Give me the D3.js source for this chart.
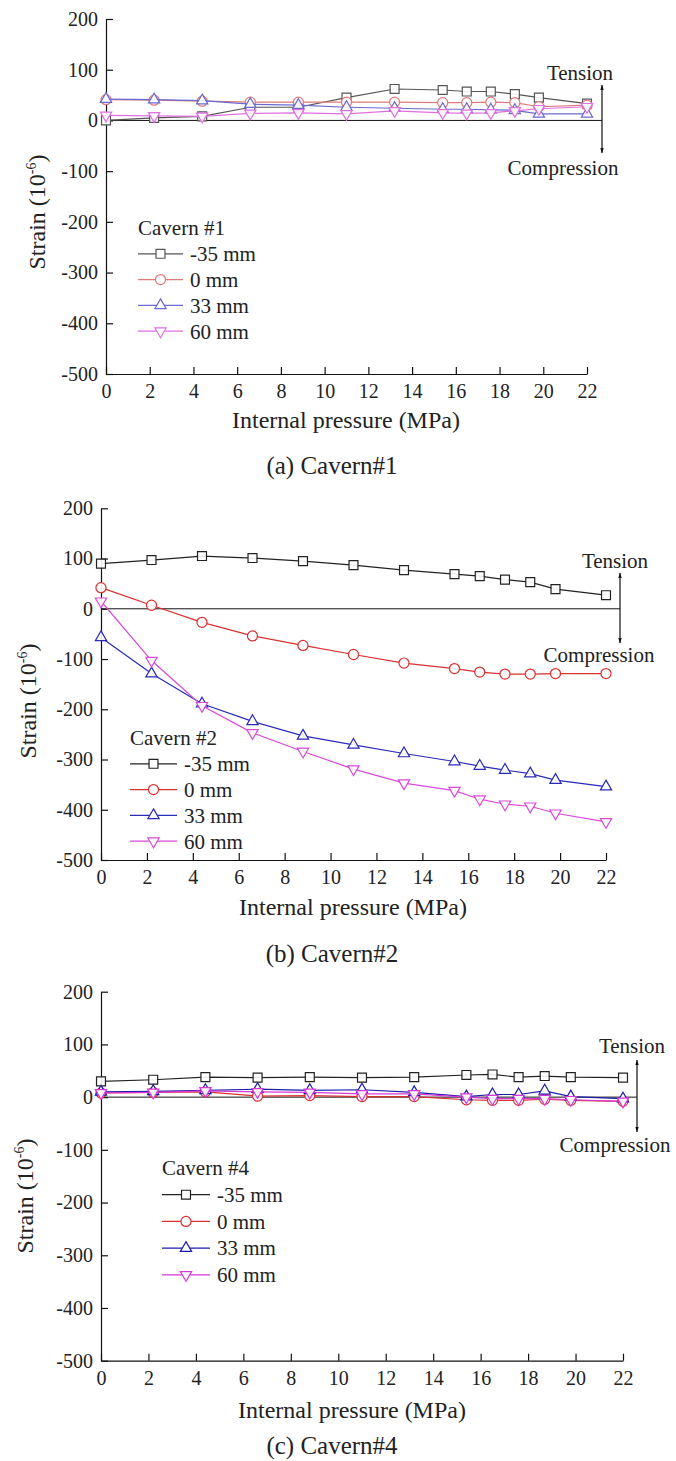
<!DOCTYPE html>
<html>
<head>
<meta charset="utf-8">
<script src="https://cdn.jsdelivr.net/npm/d3@7"></script>
<style>
  body { margin: 0; background: #fff; }
  svg text { font-family: "Liberation Serif", "DejaVu Serif", "Times New Roman", Times, serif !important; fill: #222; }
</style>
</head>
<body>
<div id="chart"></div>
<script>
// Internal pressure steps (MPa), shared by all panels
const pressure = [0, 2.2, 4.4, 6.6, 8.8, 11, 13.2, 15.4, 16.5, 17.6, 18.7, 19.8, 22];
const seriesNames = ["-35 mm", "0 mm", "33 mm", "60 mm"];
const xTicks = [0, 2, 4, 6, 8, 10, 12, 14, 16, 18, 20, 22];
const yTicks = [-500, -400, -300, -200, -100, 0, 100, 200];

// Cavern #1
const c1_m35 = [0, 5, 8, 26, 26, 45, 62, 60, 57, 57, 52, 45, 33];
const c1_0 = [41, 40, 38, 36, 36, 36, 36, 35, 35, 36, 35, 27, 30];
const c1_33 = [42, 41, 39, 32, 30, 26, 24, 22, 22, 21, 20, 13, 13];
const c1_60 = [10, 9, 8, 14, 15, 13, 19, 15, 14, 15, 19, 23, 27];

// Cavern #2
const c2_m35 = [90, 97, 105, 101, 95, 87, 77, 69, 65, 58, 53, 39, 27];
const c2_0 = [42, 7, -27, -54, -73, -91, -108, -119, -126, -130, -130, -129, -129];
const c2_33 = [-57, -129, -189, -224, -253, -271, -288, -304, -313, -321, -328, -341, -354];
const c2_60 = [15, -103, -193, -247, -284, -319, -347, -362, -379, -389, -393, -407, -424];

// Cavern #4
const c4_m35 = [30, 33, 38, 37, 38, 37, 38, 42, 43, 38, 40, 38, 37];
const c4_0 = [8, 9, 10, 2, 3, 1, 1, -5, -6, -6, -4, -6, -8];
const c4_33 = [10, 11, 13, 15, 13, 14, 9, 1, 5, 5, 12, 1, -3];
const c4_60 = [8, 9, 12, 10, 9, 6, 6, 0, -3, -3, -3, -5, -8];

const FONT = "'Liberation Serif', 'DejaVu Serif', 'Times New Roman', Times, serif";

const svg = d3.select("#chart").append("svg")
    .attr("width", 676)
    .attr("height", 1461)
    .attr("font-family", FONT);

svg.append("rect").attr("width", 676).attr("height", 1461).attr("fill", "#fff");

// arrow head
svg.append("defs").append("marker")
    .attr("id", "ah")
    .attr("viewBox", "0 0 10 10")
    .attr("refX", 9).attr("refY", 5)
    .attr("markerWidth", 5).attr("markerHeight", 8)
    .attr("orient", "auto-start-reverse")
    .append("path")
    .attr("d", "M0,2 L10,5 L0,8 Z")
    .attr("fill", "#111");

const panels = [
    {
        series: [c1_m35, c1_0, c1_33, c1_60],
        colors: ["#555", "#e07a7a", "#6a6ad0", "#e070e0"],
        legendTitle: "Cavern #1", caption: "(a) Cavern#1",
        x0: 106, x1: 587, yTop: 19, yBot: 374,
        arrowX: 602, arrowTop: 85, arrowBot: 153,
        tension: [580, 80], compression: [563, 175],
        legend: { x: 138, y: 228, gap: 25.8, w: 45 },
        yTitle: [37, 212], xTitle: [346, 420], cap: [332, 465]
    },
    {
        series: [c2_m35, c2_0, c2_33, c2_60],
        colors: ["#222", "#d93030", "#2a2ab8", "#d84ad8"],
        legendTitle: "Cavern #2", caption: "(b) Cavern#2",
        x0: 101, x1: 606, yTop: 508.3, yBot: 860,
        arrowX: 620, arrowTop: 573, arrowBot: 643,
        tension: [615, 568], compression: [599, 662],
        legend: { x: 130, y: 738, gap: 25.8, w: 47 },
        yTitle: [28, 701], xTitle: [353, 907], cap: [332, 953]
    },
    {
        series: [c4_m35, c4_0, c4_33, c4_60],
        colors: ["#222", "#d93030", "#1c1caa", "#d838d8"],
        legendTitle: "Cavern #4", caption: "(c) Cavern#4",
        x0: 101, x1: 623, yTop: 991.7, yBot: 1360.7,
        arrowX: 637, arrowTop: 1060, arrowBot: 1132,
        tension: [632, 1053], compression: [615, 1152],
        legend: { x: 162, y: 1168, gap: 26.7, w: 48 },
        yTitle: [25, 1196], xTitle: [352, 1410], cap: [332, 1445]
    }
];

// marker shapes: square, circle, up triangle, down triangle
function markerPath(i) {
    if (i === 0) return d3.symbol(d3.symbolSquare, 80)();
    if (i === 1) return d3.symbol(d3.symbolCircle, 80)();
    return d3.symbol(d3.symbolTriangle, 55)();
}
function markerTransform(i, x, y) {
    if (i === 3) return "translate(" + x + "," + y + ") rotate(180)";
    return "translate(" + x + "," + y + ")";
}

panels.forEach((p) => {
    let g = svg.append("g");

    let xScale = d3.scaleLinear().domain([0, 22]).range([p.x0, p.x1]);
    let yScale = d3.scaleLinear().domain([-500, 200]).range([p.yBot, p.yTop]);

    // zero line
    g.append("line")
        .attr("x1", xScale(0)).attr("x2", p.arrowX)
        .attr("y1", yScale(0)).attr("y2", yScale(0))
        .attr("stroke", "#111").attr("stroke-width", 1);

    // axes (inside ticks, plain hyphen minus like the original)
    let xAxis = g.append("g")
        .attr("transform", "translate(0," + p.yBot + ")")
        .call(d3.axisBottom(xScale).tickValues(xTicks).tickSizeInner(-7).tickSizeOuter(0).tickPadding(10)
            .tickFormat((d) => String(d)));
    let yAxis = g.append("g")
        .attr("transform", "translate(" + p.x0 + ",0)")
        .call(d3.axisLeft(yScale).tickValues(yTicks).tickSizeInner(-7).tickSizeOuter(0).tickPadding(8)
            .tickFormat((d) => String(d)));
    [xAxis, yAxis].forEach((a) => {
        a.attr("font-family", FONT);
        a.selectAll("path, line").attr("stroke", "#111").attr("stroke-width", 1.2);
        a.selectAll("text")
            .style("font-size", "20px")
            .attr("fill", "#222");
    });

    // series lines + markers
    p.series.forEach((vals, i) => {
        let pts = pressure.map((x, k) => [x, vals[k]]);
        g.append("path")
            .datum(pts)
            .attr("fill", "none")
            .attr("stroke", p.colors[i])
            .attr("stroke-width", 1.2)
            .attr("d", d3.line().x((d) => xScale(d[0])).y((d) => yScale(d[1])));
        g.selectAll(null)
            .data(pts)
            .enter()
            .append("path")
            .attr("d", markerPath(i))
            .attr("transform", (d) => markerTransform(i, xScale(d[0]), yScale(d[1])))
            .attr("fill", "#fff")
            .attr("fill-opacity", 0.9)
            .attr("stroke", p.colors[i])
            .attr("stroke-width", 1.2);
    });

    // tension / compression arrow
    g.append("line")
        .attr("x1", p.arrowX).attr("x2", p.arrowX)
        .attr("y1", (p.arrowTop + p.arrowBot) / 2).attr("y2", p.arrowTop)
        .attr("stroke", "#111").attr("stroke-width", 1.2)
        .attr("marker-end", "url(#ah)");
    g.append("line")
        .attr("x1", p.arrowX).attr("x2", p.arrowX)
        .attr("y1", (p.arrowTop + p.arrowBot) / 2).attr("y2", p.arrowBot)
        .attr("stroke", "#111").attr("stroke-width", 1.2)
        .attr("marker-end", "url(#ah)");
    g.append("text")
        .attr("x", p.tension[0]).attr("y", p.tension[1])
        .attr("text-anchor", "middle").style("font-size", "21px")
        .text("Tension");
    g.append("text")
        .attr("x", p.compression[0]).attr("y", p.compression[1])
        .attr("text-anchor", "middle").style("font-size", "21px")
        .text("Compression");

    // legend
    let lg = g.append("g");
    lg.append("text")
        .attr("x", p.legend.x).attr("y", p.legend.y)
        .attr("dy", "0.35em").style("font-size", "21px")
        .text(p.legendTitle);
    seriesNames.forEach((name, i) => {
        let y = p.legend.y + p.legend.gap * (i + 1);
        lg.append("line")
            .attr("x1", p.legend.x).attr("x2", p.legend.x + p.legend.w)
            .attr("y1", y).attr("y2", y)
            .attr("stroke", p.colors[i]).attr("stroke-width", 1.2);
        lg.append("path")
            .attr("d", markerPath(i))
            .attr("transform", markerTransform(i, p.legend.x + p.legend.w / 2, y))
            .attr("fill", "#fff")
            .attr("stroke", p.colors[i]).attr("stroke-width", 1.2);
        lg.append("text")
            .attr("x", p.legend.x + p.legend.w + 7).attr("y", y)
            .attr("dy", "0.35em").style("font-size", "21px")
            .text(name);
    });

    // axis titles
    let yt = g.append("text")
        .attr("transform", "translate(" + p.yTitle[0] + "," + p.yTitle[1] + ") rotate(-90)")
        .attr("text-anchor", "middle")
        .attr("dy", "0.35em")
        .style("font-size", "24px");
    yt.append("tspan").text("Strain (10");
    yt.append("tspan").attr("dy", "-9").style("font-size", "14px").text("-6");
    yt.append("tspan").attr("dy", "9").text(")");

    g.append("text")
        .attr("x", p.xTitle[0]).attr("y", p.xTitle[1])
        .attr("text-anchor", "middle").attr("dy", "0.35em")
        .style("font-size", "24px")
        .text("Internal pressure (MPa)");

    g.append("text")
        .attr("x", p.cap[0]).attr("y", p.cap[1])
        .attr("text-anchor", "middle").attr("dy", "0.35em")
        .style("font-size", "25px")
        .text(p.caption);
});
</script>
</body>
</html>
